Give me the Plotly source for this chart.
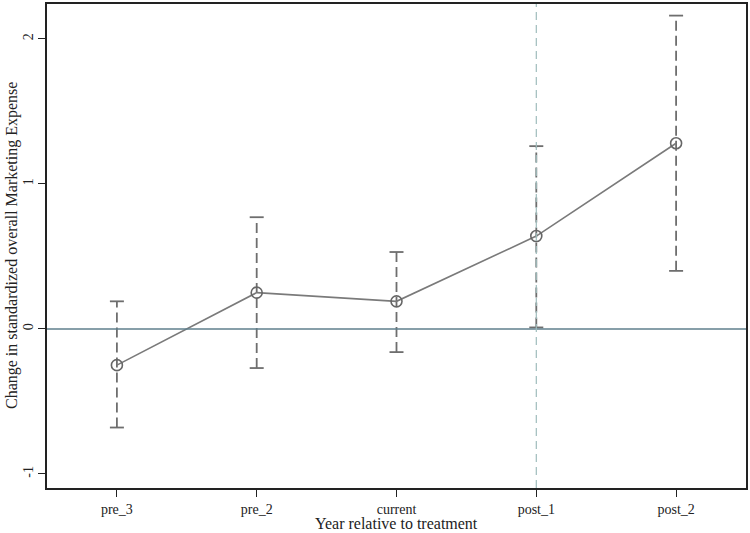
import plotly.graph_objects as go

categories = ["pre_3", "pre_2", "current", "post_1", "post_2"]
estimates = [-0.25, 0.25, 0.19, 0.64, 1.28]
ci_upper = [0.19, 0.77, 0.53, 1.26, 2.16]
ci_lower = [-0.68, -0.27, -0.16, 0.01, 0.40]
y_ticks = [-1, 0, 1, 2]
event_category = "post_1"
x_title = "Year relative to treatment"
y_title = "Change in standardized overall Marketing Expense"

xpos = list(range(len(categories)))
fig = go.Figure()

# dashed CI whiskers with caps
for i in xpos:
    fig.add_trace(go.Scatter(
        x=[i, i], y=[ci_lower[i], ci_upper[i]], mode="lines+markers",
        line=dict(color="#6e6e6e", width=1.8, dash="10px,5px"),
        marker=dict(symbol="line-ew", size=10, line=dict(color="#6e6e6e", width=1.8)),
        showlegend=False, hoverinfo="skip"))

# point estimates
fig.add_trace(go.Scatter(
    x=xpos, y=estimates, mode="lines+markers",
    line=dict(color="#7a7a7a", width=1.6),
    marker=dict(symbol="circle-open", size=11, color="#666666", line=dict(width=1.6)),
    showlegend=False))

fig.add_hline(y=0, line=dict(color="#5f7f8c", width=1.5))
fig.add_vline(x=categories.index(event_category), line=dict(color="#9fbcbc", width=1.2, dash="8px,5px"))

font = "Liberation Serif, Times New Roman, serif"
fig.update_layout(
    width=750, height=533,
    margin=dict(l=47, r=4, t=4, b=45),
    plot_bgcolor="white", paper_bgcolor="white",
    font=dict(family=font, size=14, color="#222222"),
    annotations=[
        dict(text=x_title, xref="paper", yref="paper", x=0.5, y=-35 / 484,
             xanchor="center", yanchor="middle", showarrow=False,
             font=dict(size=16, family=font, color="#222222")),
        dict(text=y_title, xref="paper", yref="paper", x=-35 / 699, y=0.5,
             xanchor="center", yanchor="middle", showarrow=False, textangle=-90,
             font=dict(size=16, family=font, color="#222222")),
    ],
)
fig.update_xaxes(
    range=[-0.5, 4.5], tickmode="array", tickvals=xpos, ticktext=categories,
    showgrid=False, zeroline=False, showline=True, mirror=True, automargin=False,
    linecolor="#222222", linewidth=1.5, ticks="outside", ticklen=7,
    tickcolor="#222222", tickfont=dict(size=14, family=font))
fig.update_yaxes(
    range=[-1.097, 2.24], tickmode="array", tickvals=y_ticks,
    ticktext=[str(v) for v in y_ticks], tickangle=-90,
    showgrid=False, zeroline=False, showline=True, mirror=True, automargin=False,
    linecolor="#222222", linewidth=1.5, ticks="outside", ticklen=7,
    tickcolor="#222222", tickfont=dict(size=14, family=font))

fig.write_html("out.html", config={"displayModeBar": False},
               post_script="document.body.style.margin='0';document.body.style.overflow='hidden';")
